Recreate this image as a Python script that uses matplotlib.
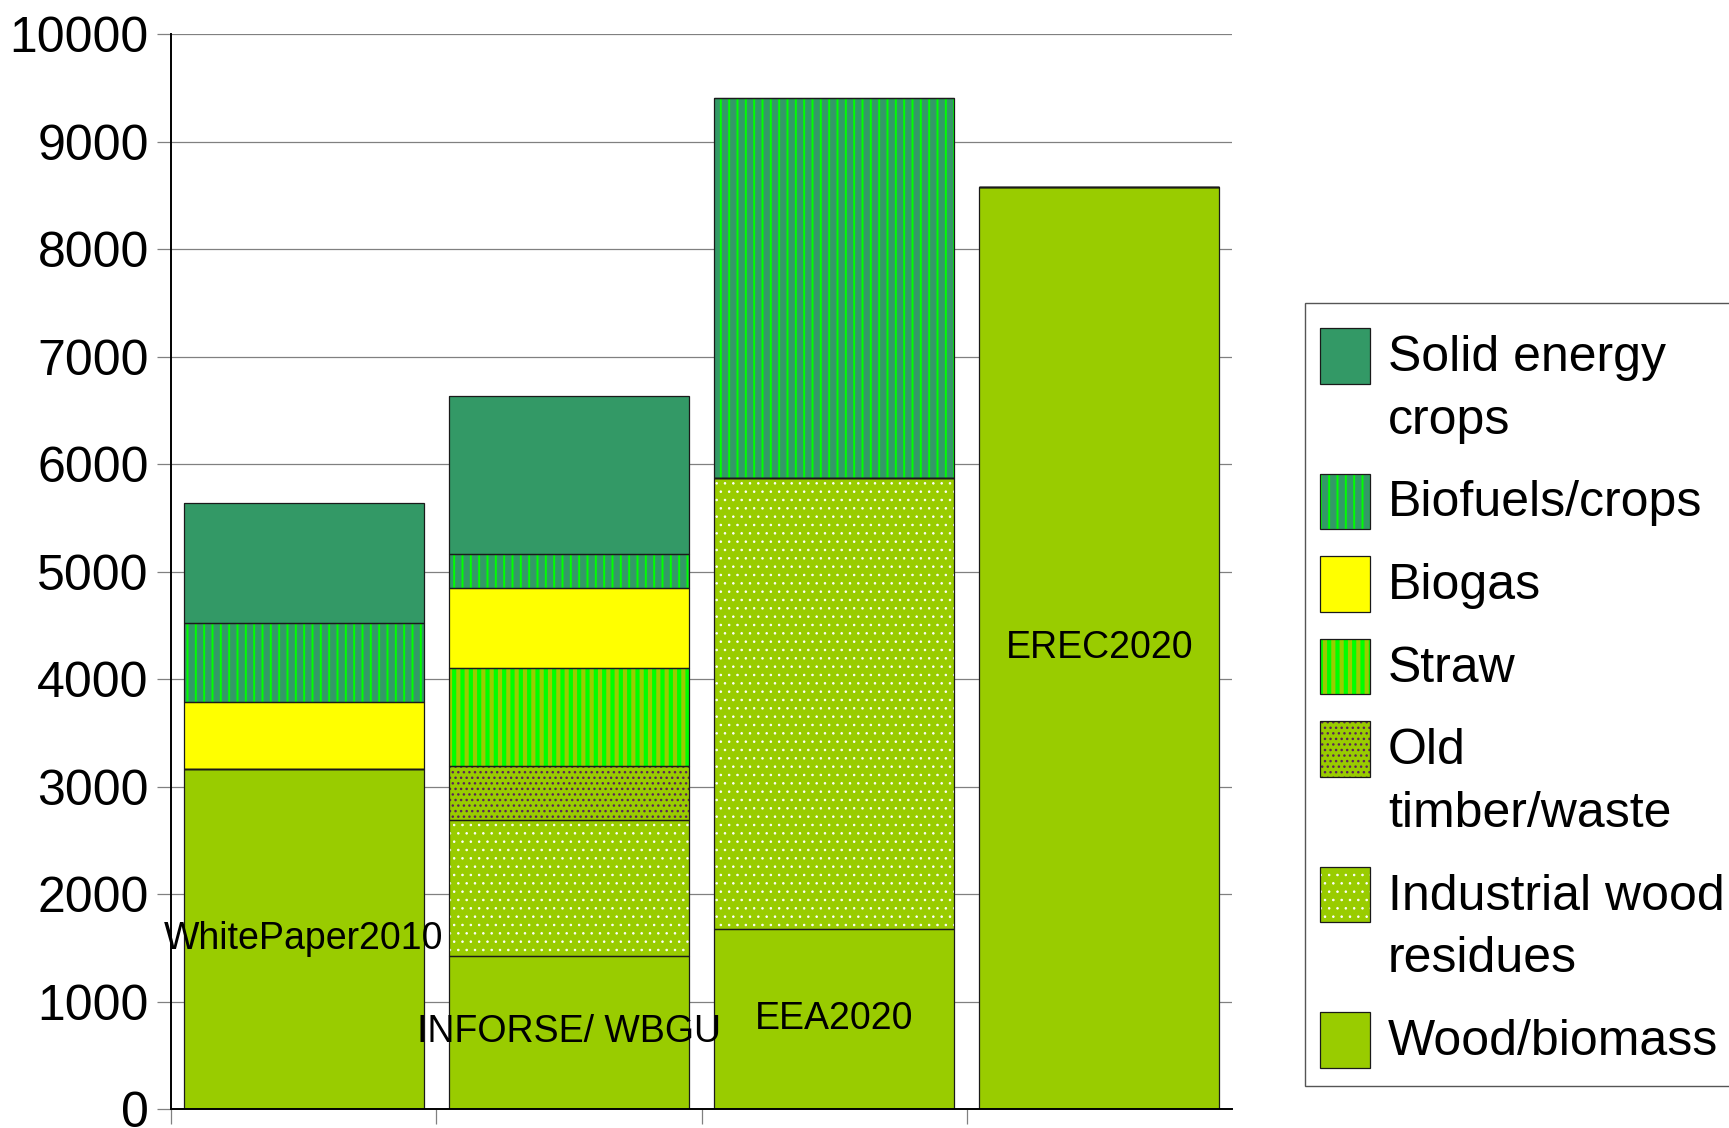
import matplotlib
matplotlib.use('Agg')
import matplotlib.pyplot as plt
import numpy as np
from matplotlib.patches import Rectangle

plt.rcParams['font.family'] = ['Liberation Sans', 'DejaVu Sans']

# Biomass potential by scenario, stacked bottom-up per feedstock
scenarios = ['WhitePaper2010', 'INFORSE/ WBGU', 'EEA2020', 'EREC2020']
wood_biomass = [3170, 1430, 1680, 8580]
industrial_wood = [0, 1265, 4190, 0]
old_timber = [0, 495, 0, 0]
straw = [0, 915, 0, 0]
biogas = [615, 745, 0, 0]
biofuels = [740, 320, 3540, 0]
solid_energy = [1115, 1465, 0, 0]

y_ticks = [0, 1000, 2000, 3000, 4000, 5000, 6000, 7000, 8000, 9000, 10000]
y_tick_labels = ['0', '1000', '2000', '3000', '4000', '5000', '6000',
                 '7000', '8000', '9000', '10000']

# fill colour, optional hatch pattern / hatch colour / hatch line width
series = [
    ('Wood/biomass', wood_biomass, {'color': '#99cc00'}),
    ('Industrial wood\nresidues', industrial_wood,
     {'color': '#99cc00', 'hatch': '..', 'hatch_color': 'white', 'hatch_lw': 0.6}),
    ('Old\ntimber/waste', old_timber,
     {'color': '#99cc00', 'hatch': '...', 'hatch_color': '#5a2458', 'hatch_lw': 1.0}),
    ('Straw', straw,
     {'color': '#99cc00', 'hatch': '||', 'hatch_color': '#00ff00', 'hatch_lw': 3.0}),
    ('Biogas', biogas, {'color': '#ffff00'}),
    ('Biofuels/crops', biofuels,
     {'color': '#339966', 'hatch': '||', 'hatch_color': '#00ff00', 'hatch_lw': 1.4}),
    ('Solid energy\ncrops', solid_energy, {'color': '#339966'}),
]

W, H = 1729, 1128
fig = plt.figure(figsize=(W / 100, H / 100), dpi=100)
ax = fig.add_axes([171 / W, 18.7 / H, 1061 / W, 1075 / H])


def set_hatch_width(patches, lw):
    for p in patches:
        if hasattr(p, 'set_hatch_linewidth'):
            p.set_hatch_linewidth(lw)


def draw_layers(make, style, z):
    """Fill, then hatch overlay, then outline."""
    make(facecolor=style['color'], linewidth=0, zorder=z)
    if 'hatch' in style:
        with plt.rc_context({'hatch.linewidth': style['hatch_lw']}):
            arts = make(facecolor='none', edgecolor=style['hatch_color'],
                        linewidth=0, hatch=style['hatch'], zorder=z + 0.1)
        set_hatch_width(arts, style['hatch_lw'])
    make(facecolor='none', edgecolor='#1a1a1a', linewidth=0.9, zorder=z + 0.2)


x = np.arange(len(scenarios))
bar_w = 0.905
bottom = np.zeros(len(scenarios))
for label, values, style in series:
    vals = np.array(values, dtype=float)
    b = bottom.copy()
    draw_layers(lambda **kw: ax.bar(x, vals, bar_w, bottom=b, **kw), style, 2)
    bottom += vals

for xi, name, w in zip(x, scenarios, wood_biomass):
    ax.text(xi, w / 2, name, ha='center', va='center', fontsize=27, zorder=5)

ax.set_xlim(-0.5, 3.5)
ax.set_ylim(0, 10000)
ax.set_yticks(y_ticks)
ax.set_yticklabels(y_tick_labels)
ax.set_xticks([-0.5, 0.5, 1.5, 2.5])
ax.set_xticklabels([])
ax.tick_params(axis='y', direction='out', length=10, width=0.9,
               color='#808080', labelsize=36, pad=6)
ax.tick_params(axis='x', direction='out', length=11, width=0.9, color='#808080')
ax.yaxis.grid(True, color='#808080', linewidth=0.9)
ax.set_axisbelow(True)
for side in ('top', 'right'):
    ax.spines[side].set_visible(False)
for side in ('left', 'bottom'):
    ax.spines[side].set_color('black')
    ax.spines[side].set_linewidth(1.4)

# legend box, entries top-aligned with their first text line
fig.add_artist(Rectangle((1304.5 / W, 1 - 1086 / H), 0.5, (1086 - 303) / H,
                         transform=fig.transFigure, facecolor='white',
                         edgecolor='#555555', linewidth=1.0))
top = 328
for label, values, style in reversed(series):
    rect = ((1320 / W, 1 - (top + 55.5) / H), 50 / W, 55.5 / H)

    def make(**kw):
        p = Rectangle(*rect, transform=fig.transFigure, **kw)
        fig.add_artist(p)
        return [p]

    draw_layers(make, style, 3)
    lines = label.split('\n')
    for k, line in enumerate(lines):
        fig.text(1388 / W, 1 - (top + 43 + 63 * k) / H, line,
                 fontsize=36, ha='left', va='baseline')
    top += 82.5 + 63 * (len(lines) - 1)

fig.savefig('out.png', dpi=100)
